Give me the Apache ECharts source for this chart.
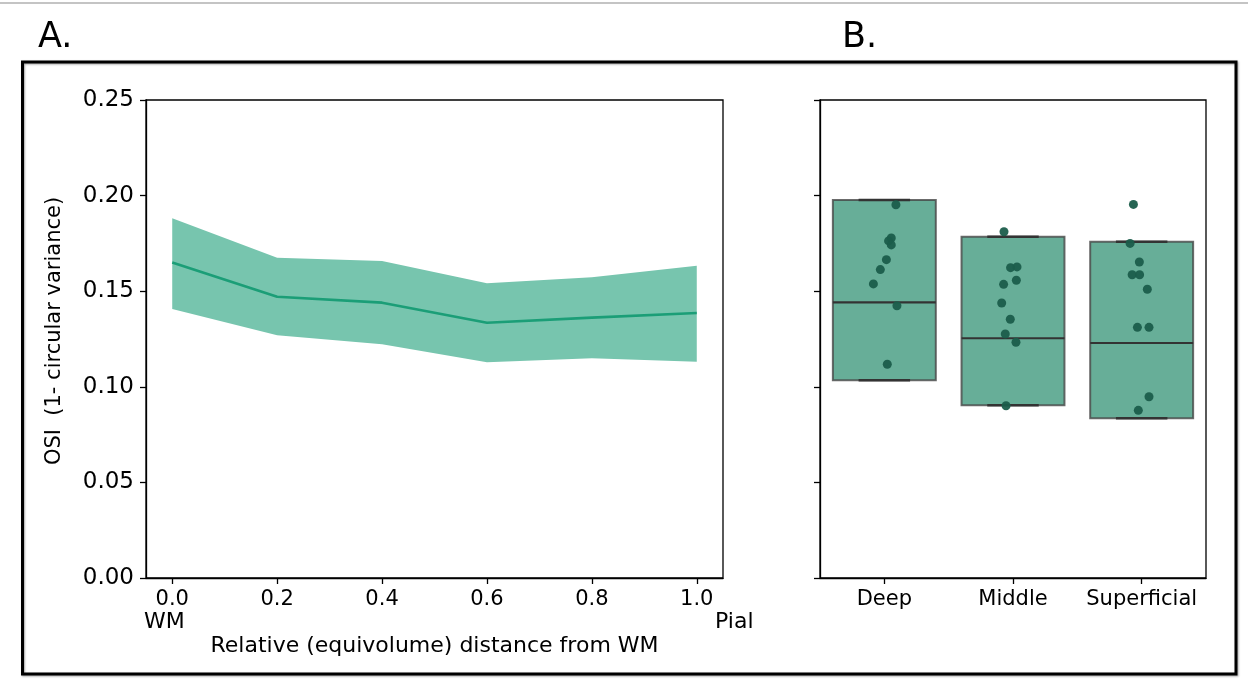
<!DOCTYPE html>
<html>
<head>
<meta charset="utf-8">
<style>
html,body{margin:0;padding:0;background:#fff;}
#chart{width:1248px;height:687px;}
</style>
<script src="https://cdn.jsdelivr.net/npm/echarts@6/dist/echarts.min.js"></script>
</head>
<body>
<div id="chart"></div>
<script>
// ---- Panel A data ----
const depthX = [0.0, 0.2, 0.4, 0.6, 0.8, 1.0];
const osiMean = [0.1650, 0.1471, 0.1440, 0.1335, 0.1362, 0.1386];
const osiUpper = [0.1881, 0.1675, 0.1658, 0.1541, 0.1573, 0.1633];
const osiLower = [0.1407, 0.1269, 0.1222, 0.1128, 0.1149, 0.1131];
const xTicksA = [0.0, 0.2, 0.4, 0.6, 0.8, 1.0];
const yTicks = [0.00, 0.05, 0.10, 0.15, 0.20, 0.25];

// ---- Panel B data ----
const layerNames = ['Deep', 'Middle', 'Superficial'];
// [low, q1, median, q3, high]
const boxDeep = [0.1034, 0.1034, 0.1442, 0.1977, 0.1977];
const boxMiddle = [0.0903, 0.0903, 0.1254, 0.1785, 0.1785];
const boxSuperficial = [0.0835, 0.0835, 0.1229, 0.1759, 0.1759];
const deepVals = [0.1952, 0.1778, 0.1763, 0.1742, 0.1665, 0.1613, 0.1538, 0.1424, 0.1118];
const deepJitter = [0.090, 0.054, 0.033, 0.054, 0.016, -0.031, -0.085, 0.098, 0.023];
const middleVals = [0.1811, 0.1623, 0.1627, 0.1557, 0.1536, 0.1438, 0.1353, 0.1276, 0.1233, 0.0901];
const middleJitter = [-0.070, -0.019, 0.031, 0.026, -0.073, -0.088, -0.021, -0.060, 0.023, -0.054];
const superVals = [0.1954, 0.1750, 0.1653, 0.1586, 0.1586, 0.1510, 0.1311, 0.1311, 0.0948, 0.0877];
const superJitter = [-0.064, -0.090, -0.018, -0.074, -0.016, 0.044, -0.033, 0.057, 0.057, -0.026];

const FONT = 'DejaVu Sans';
const chart = echarts.init(document.getElementById('chart'), null, {renderer: 'canvas'});

const boxes = [boxDeep, boxMiddle, boxSuperficial].map((b, i) => [i].concat(b));
const pointGroups = [[deepVals, deepJitter], [middleVals, middleJitter], [superVals, superJitter]];
const points = [];
pointGroups.forEach((g, i) => g[0].forEach((v, k) => points.push([i + g[1][k], v])));
const bandData = depthX.map((x, i) => [x, osiLower[i], osiUpper[i]]);

const axisLineStyle = {color: '#000', width: 1.3};
const tickStyle = {color: '#000', width: 1.3};

chart.setOption({
  animation: false,
  backgroundColor: '#fff',
  textStyle: {fontFamily: FONT},
  grid: [
    {left: 146, top: 100, width: 577, height: 478, show: true, borderColor: '#000', borderWidth: 1.3, backgroundColor: 'transparent', outerBoundsMode: 'none', containLabel: false},
    {left: 820, top: 100, width: 386, height: 478, show: true, borderColor: '#000', borderWidth: 1.3, backgroundColor: 'transparent', outerBoundsMode: 'none', containLabel: false}
  ],
  xAxis: [
    {
      type: 'value', gridIndex: 0, min: -0.05, max: 1.05,
      splitLine: {show: false},
      axisLine: {show: true, onZero: false, lineStyle: axisLineStyle},
      axisTick: {show: true, length: 6, inside: false, lineStyle: tickStyle, customValues: xTicksA},
      axisLabel: {show: true, customValues: xTicksA, color: '#000', fontFamily: FONT, fontSize: 21, margin: 11, formatter: v => v.toFixed(1)},
      name: 'Relative (equivolume) distance from WM', nameLocation: 'middle', nameGap: 57,
      nameTextStyle: {color: '#000', fontFamily: FONT, fontSize: 22}
    },
    {
      type: 'category', gridIndex: 1, data: layerNames, boundaryGap: true,
      axisLine: {show: true, onZero: false, lineStyle: axisLineStyle},
      axisTick: {show: true, alignWithLabel: true, length: 6, lineStyle: tickStyle},
      axisLabel: {show: true, color: '#000', fontFamily: FONT, fontSize: 21, margin: 11, interval: 0},
      splitLine: {show: false}
    },
    {
      type: 'value', gridIndex: 1, min: -0.5, max: 2.5, show: false
    }
  ],
  yAxis: [
    {
      type: 'value', gridIndex: 0, min: 0, max: 0.25, interval: 0.05,
      splitLine: {show: false},
      axisLine: {show: true, onZero: false, lineStyle: axisLineStyle},
      axisTick: {show: true, length: 6, lineStyle: tickStyle},
      axisLabel: {show: true, color: '#000', fontFamily: FONT, fontSize: 23, margin: 12, formatter: v => v.toFixed(2)}
    },
    {
      type: 'value', gridIndex: 1, min: 0, max: 0.25, interval: 0.05,
      splitLine: {show: false},
      axisLine: {show: true, onZero: false, lineStyle: axisLineStyle},
      axisTick: {show: true, length: 6, lineStyle: tickStyle},
      axisLabel: {show: false}
    }
  ],
  series: [
    {
      type: 'custom', xAxisIndex: 0, yAxisIndex: 0, z: 1, silent: true,
      data: bandData,
      renderItem: function (params, api) {
        if (params.dataIndex !== 0) return null;
        const upper = bandData.map(d => api.coord([d[0], d[2]]));
        const lower = bandData.map(d => api.coord([d[0], d[1]])).reverse();
        return {type: 'polygon', shape: {points: upper.concat(lower)}, style: {fill: '#77c5ae', stroke: 'none'}};
      }
    },
    {
      type: 'line', xAxisIndex: 0, yAxisIndex: 0, symbol: 'none',
      lineStyle: {color: '#1b9e77', width: 2.6},
      data: depthX.map((x, i) => [x, osiMean[i]]), z: 3
    },
    {
      type: 'custom', xAxisIndex: 1, yAxisIndex: 1, z: 4,
      data: boxes,
      renderItem: function (params, api) {
        const c = api.value(0);
        const w = api.size([1, 0])[0] * 0.8;
        const pLow = api.coord([c, api.value(1)]);
        const pQ1 = api.coord([c, api.value(2)]);
        const pMed = api.coord([c, api.value(3)]);
        const pQ3 = api.coord([c, api.value(4)]);
        const pHigh = api.coord([c, api.value(5)]);
        const x0 = pMed[0] - w / 2;
        const capHalf = w / 4;
        return {
          type: 'group',
          children: [
            {type: 'rect', shape: {x: x0, y: pQ3[1], width: w, height: pQ1[1] - pQ3[1]},
             style: {fill: '#67ae98', stroke: 'rgba(70,70,70,0.8)', lineWidth: 2}},
            {type: 'line', shape: {x1: pMed[0], y1: pQ3[1], x2: pMed[0], y2: pHigh[1]}, style: {stroke: '#3a3a3a', lineWidth: 2}},
            {type: 'line', shape: {x1: pMed[0], y1: pQ1[1], x2: pMed[0], y2: pLow[1]}, style: {stroke: '#3a3a3a', lineWidth: 2}},
            {type: 'line', shape: {x1: pMed[0] - capHalf, y1: pHigh[1], x2: pMed[0] + capHalf, y2: pHigh[1]}, style: {stroke: '#333', lineWidth: 2.5}},
            {type: 'line', shape: {x1: pMed[0] - capHalf, y1: pLow[1], x2: pMed[0] + capHalf, y2: pLow[1]}, style: {stroke: '#333', lineWidth: 2.5}},
            {type: 'line', shape: {x1: x0, y1: pMed[1], x2: x0 + w, y2: pMed[1]}, style: {stroke: '#333', lineWidth: 2.2}}
          ]
        };
      }
    },
    {
      type: 'scatter', xAxisIndex: 2, yAxisIndex: 1, z: 5,
      symbol: 'circle', symbolSize: 9,
      itemStyle: {color: '#1b5d4b', opacity: 0.95},
      data: points
    }
  ],
  graphic: [
    {type: 'line', shape: {x1: 0, y1: 3, x2: 1248, y2: 3}, style: {stroke: '#c4c4c4', lineWidth: 2}, silent: true},
    {type: 'rect', shape: {x: 22.5, y: 62, width: 1213.5, height: 612}, style: {fill: 'none', stroke: '#000', lineWidth: 3, shadowColor: 'rgba(0,0,0,0.35)', shadowBlur: 2, shadowOffsetX: 1, shadowOffsetY: 1}, silent: true},
    {type: 'text', left: 38, top: 20, style: {text: 'A.', font: '35px "DejaVu Sans"', fill: '#000'}},
    {type: 'text', left: 842, top: 20, style: {text: 'B.', font: '35px "DejaVu Sans"', fill: '#000'}},
    {type: 'text', left: 144, top: 611, style: {text: 'WM', font: '22px "DejaVu Sans"', fill: '#000'}},
    {type: 'text', left: 715, top: 611, style: {text: 'Pial', font: '22px "DejaVu Sans"', fill: '#000'}},
    {type: 'text', x: 55, y: 331, rotation: Math.PI / 2,
     style: {text: 'OSI  (1- circular variance)', font: '21px "DejaVu Sans"', fill: '#000', align: 'center', verticalAlign: 'middle'}}
  ]
});
</script>
</body>
</html>
